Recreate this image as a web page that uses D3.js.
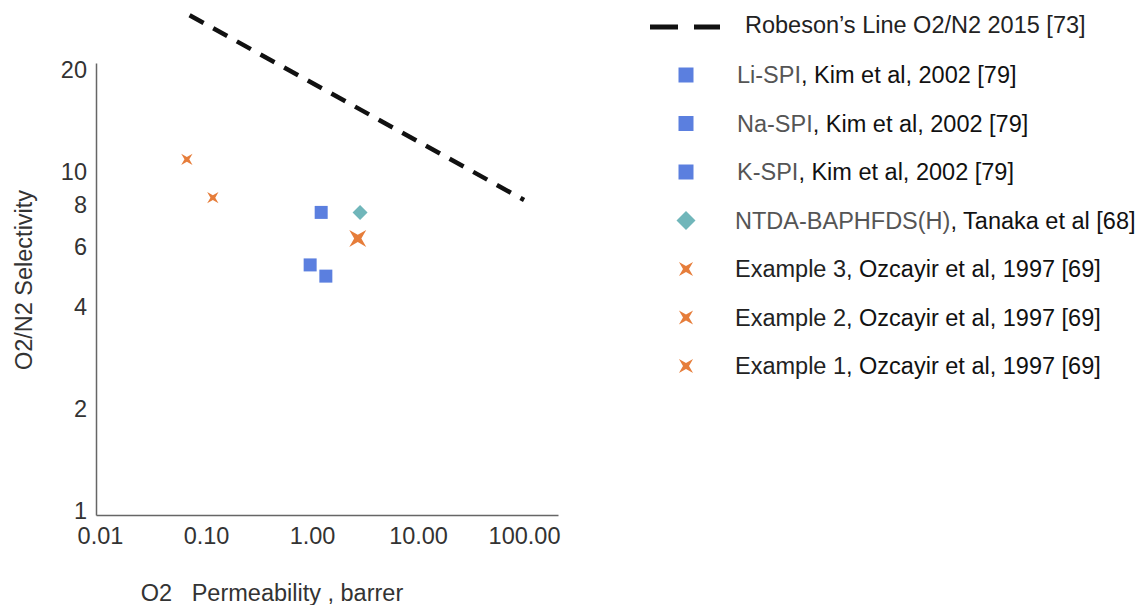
<!DOCTYPE html>
<html>
<head>
<meta charset="utf-8">
<script src="https://cdn.jsdelivr.net/npm/d3@7"></script>
<style>
  body { margin: 0; background: #fff; }
  text { font-family: "Liberation Sans", Arial, sans-serif; }
</style>
</head>
<body>
<div id="chart"></div>
<script>
// Robeson upper bound (two end points, log-log line)
const robesonPerm = [0.07, 100];
const robesonSel = [29.0, 8.27];

// membranes: O2 permeability (barrer), O2/N2 selectivity
const seriesNames = ["Li-SPI", "Na-SPI", "K-SPI", "NTDA-BAPHFDS(H)", "Example 3", "Example 2", "Example 1"];
const seriesRefs = [", Kim et al, 2002 [79]", ", Kim et al, 2002 [79]", ", Kim et al, 2002 [79]",
  ", Tanaka et al [68]", ", Ozcayir et al, 1997 [69]", ", Ozcayir et al, 1997 [69]", ", Ozcayir et al, 1997 [69]"];
const seriesPerm = [1.22, 0.96, 1.35, 2.84, 2.70, 0.116, 0.066];
const seriesSel = [7.6, 5.32, 4.93, 7.59, 6.37, 8.4, 10.9];
const seriesShape = ["square", "square", "square", "diamond", "star", "star", "star"];
const seriesSize = [13, 13, 13, 15, 24, 16, 16];

const xTicks = [0.01, 0.1, 1, 10, 100];
const yTicks = [1, 2, 4, 6, 8, 10, 20];

const colors = {square: "#5b7fdf", diamond: "#70b6ba", star: "#e67d3a"};

const W = 1145, H = 605;
const svg = d3.select("#chart").append("svg").attr("width", W).attr("height", H);

const x = d3.scaleLog().domain([0.00917, 209]).range([96, 558]);
const y = d3.scaleLog().domain([0.973, 20.97]).range([515, 63]);

// 4-point star used for the Ozcayir points (s = outer diameter along the diagonals)
function starPath(s) {
  const r = s / 2, ri = r * 0.3;
  const pts = [];
  for (let k = 0; k < 8; k++) {
    const a = Math.PI / 4 + k * Math.PI / 4;
    const rr = k % 2 === 0 ? r : ri;
    pts.push([rr * Math.cos(a), rr * Math.sin(a)]);
  }
  return "M" + pts.map(p => p.join(",")).join("L") + "Z";
}
function shapePath(shape, s) {
  if (shape === "square") return `M${-s/2},${-s/2}h${s}v${s}h${-s}Z`;
  if (shape === "diamond") return `M0,${-s/2}L${s/2},0L0,${s/2}L${-s/2},0Z`;
  return starPath(s);
}

// axes
const xAxis = d3.axisBottom(x).tickValues(xTicks).tickFormat(d3.format(".2f")).tickSize(0).tickPadding(12);
const yAxis = d3.axisLeft(y).tickValues(yTicks).tickFormat(d3.format("d")).tickSize(0).tickPadding(9);

const gx = svg.append("g").attr("transform", `translate(0,515)`).call(xAxis);
const gy = svg.append("g").attr("transform", `translate(96,0)`).call(yAxis);
[gx, gy].forEach(g => {
  g.select(".domain").attr("stroke", "#666").attr("stroke-width", 1.5);
  g.selectAll("text").attr("fill", "#333").style("font-size", "23.5px");
});

svg.append("text")
  .attr("x", 272).attr("y", 601)
  .attr("text-anchor", "middle").attr("fill", "#333").style("font-size", "23.5px")
  .attr("xml:space", "preserve")
  .text("O2   Permeability , barrer");

svg.append("text")
  .attr("transform", "translate(32,280) rotate(-90)")
  .attr("text-anchor", "middle").attr("fill", "#333").style("font-size", "23.5px")
  .text("O2/N2 Selectivity");

// Robeson line
const robeson = robesonPerm.map((p, i) => [p, robesonSel[i]]);
svg.append("path")
  .datum(robeson)
  .attr("d", d3.line().x(d => x(d[0])).y(d => y(d[1])))
  .attr("fill", "none").attr("stroke", "#111").attr("stroke-width", 4.5)
  .attr("stroke-dasharray", "16,11");

// points
const pts = seriesNames.map((n, i) => ({name: n, perm: seriesPerm[i], sel: seriesSel[i], shape: seriesShape[i], size: seriesSize[i]}));
svg.append("g").selectAll("path")
  .data(pts)
  .join("path")
  .attr("transform", d => `translate(${x(d.perm)},${y(d.sel)})`)
  .attr("d", d => shapePath(d.shape, d.size))
  .attr("fill", d => colors[d.shape]);

// legend
const leg = svg.append("g");
leg.append("line")
  .attr("x1", 650).attr("x2", 720).attr("y1", 27).attr("y2", 27)
  .attr("stroke", "#111").attr("stroke-width", 5).attr("stroke-dasharray", "28,16");
leg.append("text")
  .attr("x", 745).attr("y", 33).attr("fill", "#222").style("font-size", "23.5px")
  .text("Robeson\u2019s Line O2/N2 2015 [73]");

const legY = [75, 123.5, 172, 220.5, 269, 317.5, 366];
const legItems = leg.selectAll("g.item")
  .data(pts)
  .join("g").attr("class", "item")
  .attr("transform", (d, i) => `translate(0,${legY[i]})`);
legItems.append("path")
  .attr("transform", "translate(686,0)")
  .attr("d", d => shapePath(d.shape, d.shape === "diamond" ? 19 : d.shape === "star" ? 20 : 15))
  .attr("fill", d => colors[d.shape]);
const lt = legItems.append("text")
  .attr("x", (d, i) => i < 3 ? 737 : 735).attr("y", 8)
  .style("font-size", "23.5px");
lt.append("tspan").attr("fill", (d, i) => i < 4 ? "#555" : "#222").text(d => d.name);
lt.append("tspan").attr("fill", "#111").text((d, i) => seriesRefs[i]);
</script>
</body>
</html>
